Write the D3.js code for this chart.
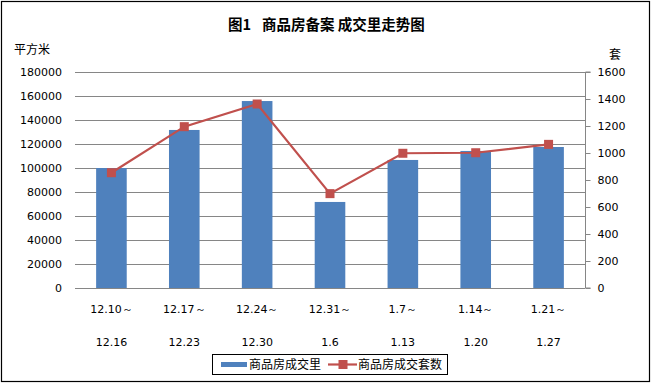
<!DOCTYPE html>
<html><head><meta charset="utf-8">
<script src="https://cdn.jsdelivr.net/npm/d3@7"></script>
<style>body{margin:0;background:#fff}svg{display:block}</style>
</head><body><svg id="c" width="652" height="384"></svg>
<script>
const categoriesTop = ["12.10～","12.17～","12.24～","12.31～","1.7～","1.14～","1.21～"];
const categoriesBottom = ["12.16","12.23","12.30","1.6","1.13","1.20","1.27"];
const areaValues = [100000,131700,155800,71700,106700,114200,117500];
const unitValues = [854,1195,1363,699,998,1002,1064];
const leftTicks = [0,20000,40000,60000,80000,100000,120000,140000,160000,180000];
const rightTicks = [0,200,400,600,800,1000,1200,1400,1600];
const seriesNames = ["商品房成交里","商品房成交套数"];
const titleParts = ["图1", "商品房备案 成交里走势图"];

const svg = d3.select("#c");
const numFont = "'DejaVu Sans', Verdana, sans-serif";
const cjkFont = "'Noto Sans CJK SC', sans-serif";
svg.append("rect").attr("x",1.5).attr("y",1.5).attr("width",648).attr("height",380).attr("fill","#fff").attr("stroke","#000").attr("stroke-width",1.2);

const L=75,R=585,T=72,B=288;
const x = d3.scaleBand().domain(d3.range(categoriesTop.length)).range([L,R]).paddingInner(0.58).paddingOuter(0.29);
const yL = d3.scaleLinear().domain([0,180000]).range([B,T]);
const yR = d3.scaleLinear().domain([0,1600]).range([B,T]);

// gridlines
svg.append("g").selectAll("line").data(leftTicks).join("line")
 .attr("x1",L).attr("x2",R).attr("y1",d=>Math.round(yL(d))+0.5).attr("y2",d=>Math.round(yL(d))+0.5)
 .attr("stroke","#868686").attr("stroke-width",1);

// bars
svg.append("g").selectAll("rect").data(areaValues).join("rect")
 .attr("x",(d,i)=>x(i)).attr("width",x.bandwidth()).attr("y",d=>yL(d)).attr("height",d=>B-yL(d)).attr("fill","#4F81BD");

// left axis labels
svg.append("g").selectAll("text").data(leftTicks).join("text")
 .attr("x",62).attr("y",d=>yL(d)+4).attr("text-anchor","end").attr("font-family",numFont).attr("font-size",11).attr("fill","#000").text(d=>d);

// right axis
const rAxis = d3.axisRight(yR).tickValues(rightTicks).tickSize(5).tickPadding(7).tickFormat(d=>d);
const rg = svg.append("g").attr("transform",`translate(${R+0.5},0)`).call(rAxis);
rg.select(".domain").attr("stroke","#868686").attr("d",`M5,${T}H0V${B}H5`);
rg.selectAll(".tick line").attr("stroke","#868686");
rg.selectAll(".tick text").attr("font-family",numFont).attr("font-size",11).attr("fill","#000");

// line
const cx = i=>x(i)+x.bandwidth()/2;
svg.append("path").datum(unitValues).attr("fill","none").attr("stroke","#C0504D").attr("stroke-width",2.2)
 .attr("d",d3.line().x((d,i)=>cx(i)).y(d=>yR(d)));
svg.append("g").selectAll("rect").data(unitValues).join("rect")
 .attr("x",(d,i)=>cx(i)-4.5).attr("y",d=>yR(d)-4.5).attr("width",9).attr("height",9).attr("fill","#C0504D");

// x labels
const xl = svg.append("g").attr("font-family",numFont).attr("font-size",11).attr("text-anchor","middle").attr("fill","#000");
xl.selectAll("text.t").data(categoriesTop).join("text").attr("class","t").attr("x",(d,i)=>cx(i)).attr("y",313).text(d=>d);
xl.selectAll("text.b").data(categoriesBottom).join("text").attr("class","b").attr("x",(d,i)=>cx(i)).attr("y",346).text(d=>d);

// titles
const tt = svg.append("text").attr("x",228).attr("y",30).attr("font-family",cjkFont).attr("font-weight","bold").attr("font-size",14.5);
tt.append("tspan").text(titleParts[0]);
tt.append("tspan").attr("x",262).text(titleParts[1]);
svg.append("text").attr("x",14).attr("y",54).attr("font-family",cjkFont).attr("font-size",12).text("平方米");
svg.append("text").attr("x",609).attr("y",59).attr("font-family",cjkFont).attr("font-size",12).text("套");

// legend
const lg = svg.append("g");
lg.append("rect").attr("x",212.5).attr("y",354.5).attr("width",235).attr("height",20).attr("fill","#fff").attr("stroke","#000");
lg.append("rect").attr("x",221).attr("y",362).attr("width",26).attr("height",5).attr("fill","#4F81BD");
lg.append("text").attr("x",249).attr("y",369).attr("font-family",cjkFont).attr("font-size",12).text(seriesNames[0]);
lg.append("line").attr("x1",328).attr("x2",357).attr("y1",364.5).attr("y2",364.5).attr("stroke","#C0504D").attr("stroke-width",2.2);
lg.append("rect").attr("x",338.5).attr("y",360).attr("width",9).attr("height",9).attr("fill","#C0504D");
lg.append("text").attr("x",358).attr("y",369).attr("font-family",cjkFont).attr("font-size",12).text(seriesNames[1]);
</script></body></html>
